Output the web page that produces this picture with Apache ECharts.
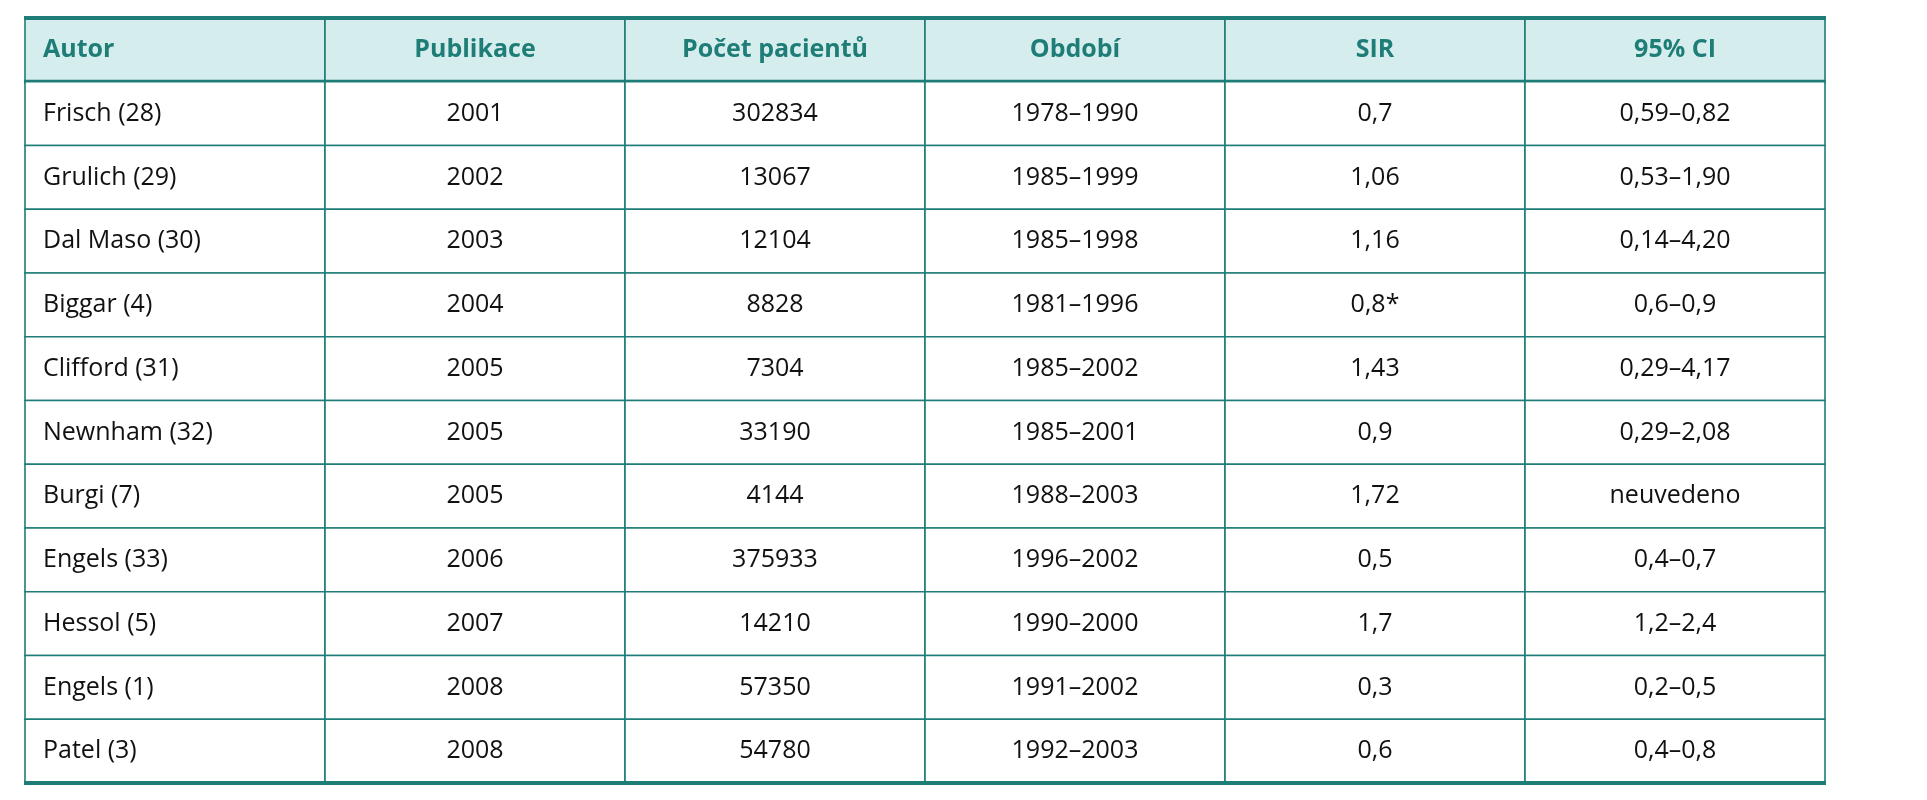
<!DOCTYPE html>
<html><head><meta charset="utf-8">
<script src="https://cdn.jsdelivr.net/npm/echarts@6/dist/echarts.min.js"></script>
<style>html,body{margin:0;background:#fff}#c{width:1927px;height:800px}</style>
</head><body><div id="c"></div>
<script>
const headers = ['Autor','Publikace','Počet pacientů','Období','SIR','95% CI'];
const authors = ['Frisch (28)','Grulich (29)','Dal Maso (30)','Biggar (4)','Clifford (31)','Newnham (32)','Burgi (7)','Engels (33)','Hessol (5)','Engels (1)','Patel (3)'];
const years = ['2001','2002','2003','2004','2005','2005','2005','2006','2007','2008','2008'];
const patients = ['302834','13067','12104','8828','7304','33190','4144','375933','14210','57350','54780'];
const periods = ['1978–1990','1985–1999','1985–1998','1981–1996','1985–2002','1985–2001','1988–2003','1996–2002','1990–2000','1991–2002','1992–2003'];
const sir = ['0,7','1,06','1,16','0,8*','1,43','0,9','1,72','0,5','1,7','0,3','0,6'];
const ci = ['0,59–0,82','0,53–1,90','0,14–4,20','0,6–0,9','0,29–4,17','0,29–2,08','neuvedeno','0,4–0,7','1,2–2,4','0,2–0,5','0,4–0,8'];

const cols = [authors, years, patients, periods, sir, ci];
const nRows = authors.length + 1;
const data = [];
headers.forEach((h, c) => data.push([c, 0, h]));
cols.forEach((arr, c) => arr.forEach((v, r) => data.push([c, r + 1, v])));

const teal = '#1f7d77';
const chart = echarts.init(document.getElementById('c'));
chart.setOption({
  animation: false,
  grid: {left: 25, right: 102, top: 18, bottom: 17},
  xAxis: {type: 'category', data: headers.map((_, i) => i), show: false},
  yAxis: {type: 'category', data: Array.from({length: nRows}, (_, i) => i), inverse: true, show: false},
  series: [{
    type: 'custom',
    data: data,
    renderItem: function (params, api) {
      const c = api.value(0), r = api.value(1);
      const p = api.coord([c, r]);
      const s = api.size([1, 1]);
      const x = p[0] - s[0] / 2, y = p[1] - s[1] / 2, w = s[0], h = s[1];
      const isHead = r === 0;
      const children = [{
        type: 'rect', shape: {x, y, width: w, height: h},
        style: {fill: isHead ? '#d6eded' : '#fff', stroke: teal, lineWidth: 1.6}
      }, {
        type: 'text',
        style: {
          text: data[params.dataIndex][2],
          x: c === 0 ? x + 18 : x + w / 2, y: y + h / 2,
          align: c === 0 ? 'left' : 'center', verticalAlign: 'middle',
          font: (isHead ? 'bold ' : '') + '25px "Open Sans", sans-serif',
          fill: isHead ? teal : '#111'
        }
      }];
      const thick = (yy) => children.push({type: 'line', shape: {x1: x - 1, y1: yy, x2: x + w + 1, y2: yy}, style: {stroke: teal, lineWidth: 4}});
      if (isHead) { thick(y); thick(y + h); }
      if (r === nRows - 1) thick(y + h);
      return {type: 'group', children};
    }
  }]
});
</script></body></html>
